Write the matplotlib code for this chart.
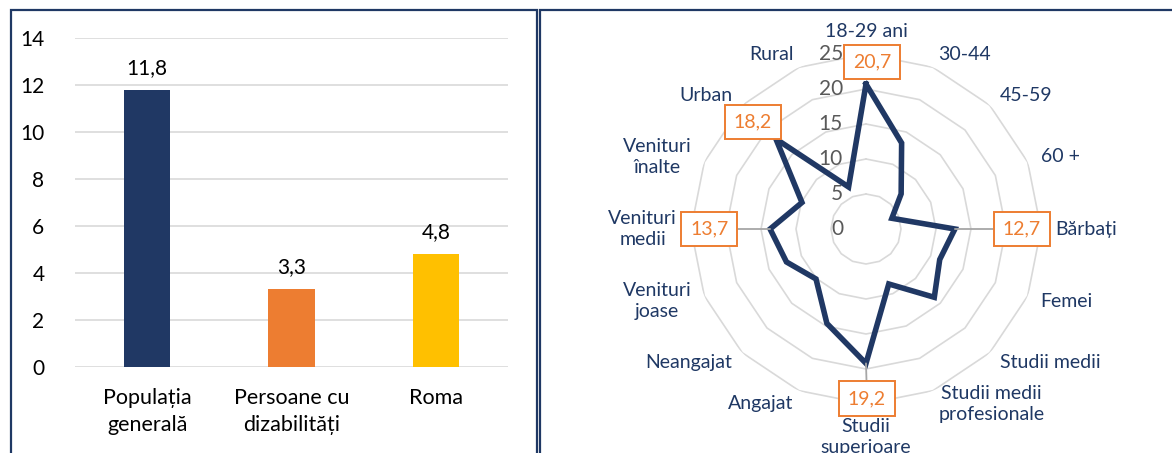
import numpy as np
import matplotlib
matplotlib.use("Agg")
import matplotlib.pyplot as plt
from matplotlib.patches import Rectangle

plt.rcParams['font.family'] = ['Lato', 'DejaVu Sans']

# bar chart data
groups = ['Populația\ngenerală', 'Persoane cu\ndizabilități', 'Roma']
group_vals = [11.8, 3.3, 4.8]
bar_colors = ['#203864', '#ED7D31', '#FFC000']

# radar chart data
radar_cats = ['18-29 ani', '30-44', '45-59', '60 +', 'Bărbați', 'Femei',
              'Studii medii', 'Studii medii\nprofesionale', 'Studii\nsuperioare',
              'Angajat', 'Neangajat', 'Venituri\njoase', 'Venituri\nmedii',
              'Venituri\nînalte', 'Urban', 'Rural']
radar_vals = [20.7, 13.3, 7.1, 4.0, 12.7, 11.4, 13.8, 8.5, 19.2,
              14.6, 10.1, 12.3, 13.7, 9.9, 18.2, 6.5]
rings = [0, 5, 10, 15, 20, 25]
# which points get a boxed label, and where the box sits (pixel offsets)
labelled = {0: (6, 22), 4: (67, 0), 8: (1, -35), 12: (-61, 0), 14: (-23, 17)}

navy = '#203864'
text_navy = '#1F3864'
orange = '#ED7D31'

fig = plt.figure(figsize=(11.72, 4.53), dpi=100)

# panel frames
fig.patches.append(Rectangle((11 / 1172, -0.05), 526 / 1172, 442.5 / 453 + 0.05,
                             transform=fig.transFigure, fill=False,
                             edgecolor=text_navy, lw=1.6))
fig.patches.append(Rectangle((540 / 1172, -0.05), 0.6, 442.5 / 453 + 0.05,
                             transform=fig.transFigure, fill=False,
                             edgecolor=text_navy, lw=1.6))

# ---- left: bar chart ----
ax = fig.add_axes([75 / 1172, 86 / 453, 433 / 1172, 329 / 453])
x = np.arange(len(groups))
ax.bar(x, group_vals, width=0.32, color=bar_colors, zorder=3)
for xi, v in zip(x, group_vals):
    ax.annotate(f'{v:.1f}'.replace('.', ','), xy=(xi, v), xytext=(0, 12),
                textcoords='offset pixels', ha='center', va='bottom',
                fontsize=15, color='black')
ax.set_xlim(-0.5, 2.5)
ax.set_ylim(0, 14)
ax.set_yticks(range(0, 15, 2))
ax.yaxis.grid(True, color='#D9D9D9', lw=1.2)
ax.set_axisbelow(True)
for s in ax.spines.values():
    s.set_visible(False)
ax.set_xticks(x)
ax.set_xticklabels(groups, fontsize=15.5, linespacing=1.45)
ax.tick_params(axis='x', length=0, pad=15)
ax.tick_params(axis='y', length=0, pad=22, labelsize=15)

# ---- right: radar chart ----
rax = fig.add_axes([691 / 1172, 49 / 453, 350 / 1172, 350 / 453], projection='polar')
rax.set_theta_zero_location('N')
rax.set_theta_direction(-1)
n = len(radar_cats)
theta = np.arange(n) * 2 * np.pi / n
theta_c = np.append(theta, theta[0])
rax.set_ylim(0, 25)
rax.grid(False)
rax.spines['polar'].set_visible(False)
rax.set_xticks([])
rax.set_yticks([])
rax.patch.set_alpha(0)

for r in rings[1:]:
    rax.plot(theta_c, [r] * (n + 1), color='#D9D9D9', lw=1.2, zorder=1)
for r in rings:
    rax.annotate(str(r), xy=(0, r), xytext=(-23, 0), textcoords='offset pixels',
                 ha='right', va='center', fontsize=15, color='#595959')

vals_c = radar_vals + radar_vals[:1]
rax.plot(theta_c, vals_c, color=navy, lw=4, solid_joinstyle='miter', zorder=4)

for i, (dx, dy) in labelled.items():
    far = abs(dx) > 30 or abs(dy) > 30
    rax.annotate(f'{radar_vals[i]:.1f}'.replace('.', ','), xy=(theta[i], radar_vals[i]),
                 xytext=(dx, dy), textcoords='offset pixels', ha='center', va='center',
                 fontsize=14, color=orange, zorder=5,
                 bbox=dict(boxstyle='square,pad=0.45', fc='white', ec=orange, lw=1.4),
                 arrowprops=dict(arrowstyle='-', color='#A6A6A6', lw=1.3,
                                 shrinkA=0, shrinkB=0) if far else None)

for t, lab in zip(theta, radar_cats):
    s, c = np.sin(t), np.cos(t)
    ha = 'left' if s > 0.1 else ('right' if s < -0.1 else 'center')
    va = 'center'
    if abs(s) <= 0.1:
        va = 'bottom' if c > 0 else 'top'
    rax.text(t, 27, lab, ha=ha, va=va, fontsize=14, color=text_navy,
             multialignment='center', linespacing=1.3)

fig.savefig('out.png', dpi=100)
